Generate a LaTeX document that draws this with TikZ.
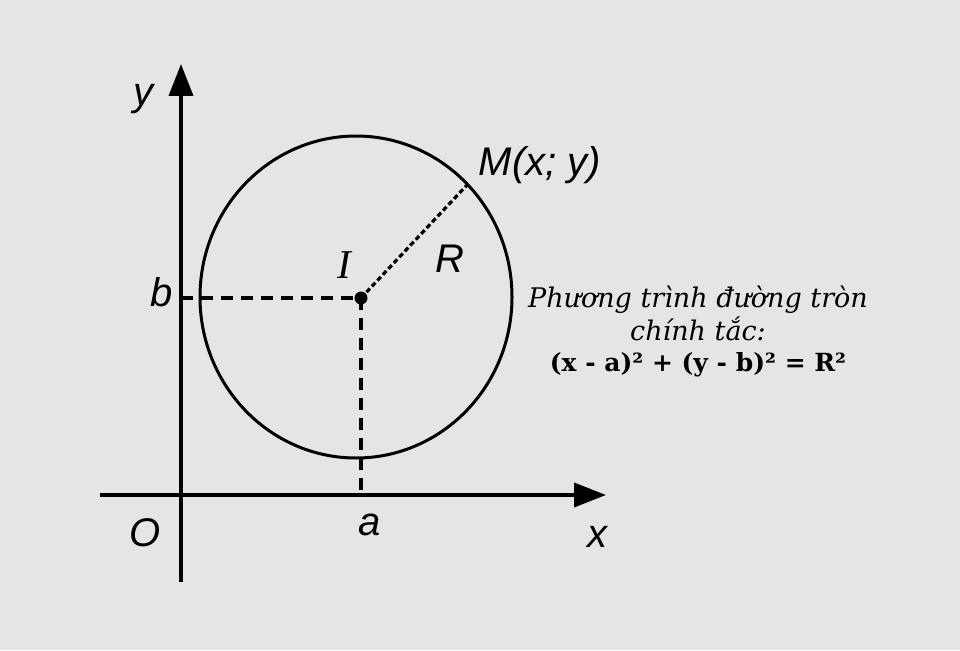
\documentclass[tikz,border=0pt]{standalone}
\usepackage{fontspec}
\setmainfont{Liberation Serif}
\newfontfamily\axisfont{Liberation Sans}
\newfontfamily\notefont{DejaVu Serif}
\usetikzlibrary{arrows.meta,calc}
\definecolor{paper}{HTML}{E5E5E3}

\begin{document}
\begin{tikzpicture}[
    x=1pt, y=-1pt,
    axis/.style = {line width=3.8pt, -{Triangle[length=32pt,width=24pt]}},
    guide/.style = {line width=3.5pt, dash pattern=on 12pt off 8pt},
    radial/.style = {line width=3.2pt, dash pattern=on 5pt off 3pt},
    lbl/.style = {font=\axisfont\itshape\fontsize{40}{40}\selectfont, anchor=base, inner sep=0pt},
    note/.style = {font=\notefont\fontsize{27}{33}\selectfont, align=center, inner sep=0pt}
    ]
    \fill[paper] (0,0) rectangle (960,650);
    \useasboundingbox (0,0) rectangle (960,650);
    % axes
    \coordinate (xs) at (100,495);
    \coordinate (xe) at (606,495);
    \coordinate (ys) at (181,582);
    \coordinate (ye) at (181,64);
    \draw[axis] (xs) -- (xe);
    \draw[axis] (ys) -- (ye);
    % circle
    \coordinate (C) at (356,297);
    \draw[line width=3pt] (C) ellipse [x radius=156pt, y radius=161pt];
    \node[circle, fill, inner sep=0pt, minimum size=13pt] (I) at (361,298) {};
    \coordinate (M) at (467,185);
    \coordinate (yb) at (181,298);
    \coordinate (xa) at (361,495);
    \draw[guide] (yb) -- (I.center);
    \draw[guide] (I.center) -- (xa);
    \draw[radial] (I.center) -- (M);
    % labels
    \node[lbl] (ylbl) at (143,106) {y};
    \node[lbl] (xlbl) at (597,547) {x};
    \node[lbl] (olbl) at (145,546) {O};
    \node[lbl] (albl) at (370,535) {a};
    \node[lbl] (blbl) at (162,306) {b};
    \node[lbl] (rlbl) at (450,272) {R};
    \node[lbl] (mlbl) at (540,175) {M(x; y)};
    \node[font=\itshape\fontsize{41}{41}\selectfont, anchor=base, inner sep=0pt] (ilbl) at (344,278) {I};
    \node[note, anchor=base] (eq) at (698,371) {\itshape Phương trình đường tròn\\
      \itshape chính tắc:\\[-2pt]
      \bfseries\fontsize{25}{30}\selectfont (x - a)² + (y - b)² = R²};
\end{tikzpicture}
\end{document}
